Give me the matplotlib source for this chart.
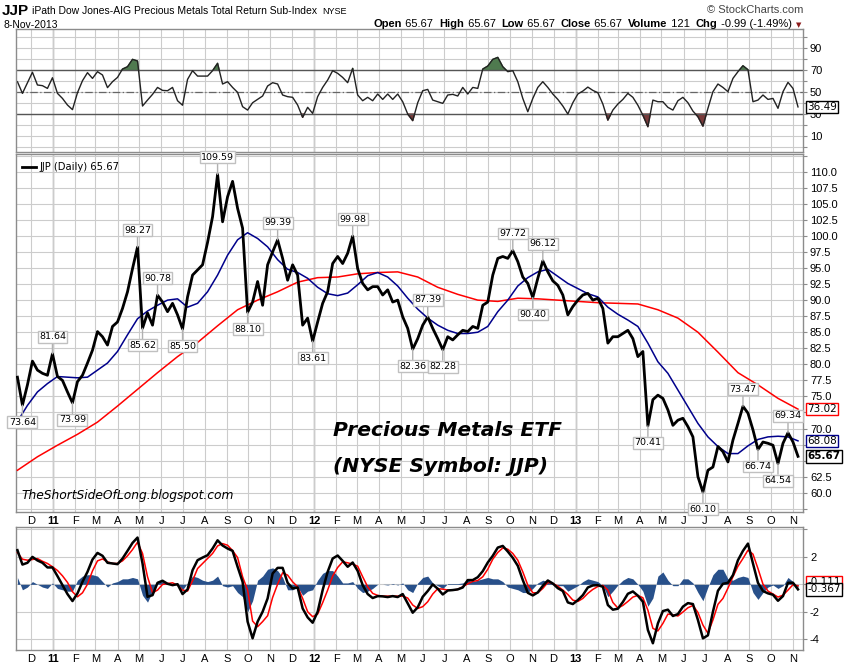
#!/usr/bin/env python
""" JJP daily chart with RSI and MACD panels, StockCharts style """
import matplotlib

matplotlib.use("Agg")
import matplotlib.pyplot as plt
import numpy as np
import pandas as pd

W, H = 850, 668

# weekly closes, first week ends 12-Nov-2010
WEEK_START = "2010-11-12"

PRICE = [
    78.0, 73.64, 76.8, 80.5, 79.1, 78.6, 78.3, 81.64, 78.1, 77.5,
    75.7, 73.99, 77.3, 78.3, 80.2, 82.2, 85.1, 84.3, 83.0, 85.9,
    86.6, 88.7, 91.3, 94.9, 98.27, 85.62, 88.0, 86.1, 90.78, 89.7,
    88.2, 89.5, 87.7, 85.50, 90.5, 93.9, 94.7, 95.5, 99.0, 103.0,
    109.59, 102.2, 106.1, 108.5, 104.3, 101.2, 88.10, 89.7, 92.9, 89.2,
    95.5, 97.5, 99.39, 96.5, 93.1, 95.5, 93.9, 86.1, 87.2, 83.61,
    86.6, 89.5, 91.3, 95.7, 96.8, 95.7, 97.3, 99.98, 94.9, 92.6,
    91.6, 92.1, 92.1, 90.8, 91.6, 89.7, 90.0, 87.4, 85.6, 82.36,
    84.0, 86.1, 87.39, 85.6, 84.0, 82.28, 84.3, 83.8, 84.6, 85.3,
    85.1, 85.9, 85.6, 89.2, 89.7, 93.9, 96.5, 96.8, 96.5, 97.72,
    96.0, 93.6, 92.6, 90.40, 93.4, 96.12, 94.4, 93.0, 92.3, 90.8,
    87.7, 89.0, 90.0, 90.8, 91.05, 90.0, 90.3, 88.7, 83.3, 84.3,
    84.3, 84.8, 85.3, 84.0, 81.2, 82.0, 70.41, 74.5, 75.2, 74.7,
    72.9, 70.5, 71.3, 71.6, 70.3, 68.7, 62.5, 60.10, 63.5, 64.0,
    67.2, 66.4, 64.8, 68.2, 70.8, 73.47, 72.4, 69.8, 66.74, 67.9,
    67.7, 67.4, 64.54, 67.7, 69.34, 67.9, 65.67,
]

# 50 day average, every second week
SMA50 = [
    71.1, 73.6, 75.7, 77.0, 78.1, 78.0, 77.9, 78.0, 79.1, 80.2,
    82.0, 84.6, 87.1, 88.3, 89.2, 90.0, 90.2, 88.9, 89.5, 91.3,
    93.9, 97.0, 99.4, 100.5, 99.6, 98.3, 96.3, 94.8, 94.3, 93.4,
    92.0, 91.0, 90.7, 91.1, 92.4, 93.8, 94.3, 93.6, 92.2, 90.3,
    88.6, 87.2, 86.1, 85.3, 84.8, 84.8, 85.0, 85.9, 88.2, 90.0,
    92.2, 93.5, 94.4, 94.8, 93.7, 92.6, 91.8, 91.0, 90.5, 88.9,
    87.8, 86.9, 85.9, 83.3, 80.4, 78.6, 76.0, 73.4, 70.8, 68.7,
    67.2, 66.1, 66.1, 67.3, 68.3, 68.7, 68.8, 68.7, 68.08,
]

# 200 day average, every fourth week
SMA200 = [
    63.5, 65.6, 67.4, 69.1, 71.0, 73.5, 76.1, 78.7, 81.2, 83.4,
    86.0, 88.5, 90.0, 91.3, 92.8, 93.5, 93.6, 94.1, 94.3, 94.4,
    93.6, 92.0, 90.9, 90.0, 89.8, 90.3, 90.2, 90.0, 89.8, 89.6,
    89.5, 89.4, 88.5, 87.2, 85.0, 81.9, 78.7, 76.8, 74.7, 73.02,
]

RSI = [
    59.4, 48.8, 58.5, 68, 56.4, 55.8, 53.3, 63, 48.8, 44.2,
    38.2, 34, 49.4, 60.3, 67.6, 62.4, 68.5, 65.5, 54, 59.4,
    63.3, 70.9, 73, 79.7, 78.2, 37.3, 42.7, 47.9, 54.2, 51.5,
    51.2, 54.2, 42.1, 38, 61.5, 69.4, 64.5, 64.5, 64.5, 69.4,
    76.1, 57.3, 59.4, 54.2, 49.7, 36.7, 33.6, 40.3, 43.3, 46.4,
    55.5, 58.5, 57.3, 47.3, 45.8, 45.2, 38.2, 27.0, 36.1, 30.6,
    45.8, 54.2, 60.9, 69.4, 67, 63.3, 58.5, 71.5, 47.3, 42.1,
    45.2, 42.1, 48.2, 43.3, 48.2, 43.3, 48.2, 41.2, 30, 24,
    40.3, 51.2, 52.4, 42.7, 41.2, 39.7, 47.3, 47.9, 46.4, 54.2,
    48.2, 54.2, 53.3, 70.9, 73.6, 79.7, 81.5, 73, 68.5, 69.4,
    59.4, 44.2, 32.1, 44.2, 54.2, 59.4, 54.2, 48.2, 43.3, 37.3,
    30, 40.3, 48.2, 50.9, 54.5, 51.5, 49.4, 39.1, 24.5, 33.6,
    39.1, 43.3, 48.8, 45.2, 38, 29, 18.5, 42.7, 41.2, 41.2,
    36.1, 33.6, 42.1, 45.2, 40.3, 32.7, 27.6, 19, 35.2, 50.3,
    57.3, 54.2, 50.3, 62.4, 68.5, 73.9, 70.3, 41.2, 42.7, 47.3,
    43.3, 44.2, 35.2, 50.3, 58.8, 53.3, 36.49,
]

MACD = [
    2.49, 1.44, 1.57, 2.0, 1.74, 1.57, 1.23, 1.23, 0.6, -0.06,
    -0.71, -1.22, -0.66, 0.18, 0.91, 1.81, 2.29, 2.08, 1.57, 1.52,
    1.47, 1.88, 2.44, 3.02, 3.41, 1.52, -0.91, -0.79, 0.11, 0.26,
    0.04, -0.06, 0.01, -0.71, -0.37, 1.03, 1.76, 1.95, 2.12, 2.61,
    3.21, 2.83, 2.61, 2.44, 1.28, 0.18, -2.72, -3.94, -2.72, -2.0,
    -1.03, 0.79, 1.2, 1.2, 0.11, -0.3, -0.23, -1.76, -2.41, -2.8,
    -2.0, -0.42, 0.91, 1.88, 2.1, 1.71, 1.28, 1.59, 0.98, -0.06,
    -0.71, -1.0, -0.86, -0.88, -0.93, -0.86, -0.93, -0.71, -1.39, -2.07,
    -1.68, -0.91, -0.49, -0.01, -0.32, -0.74, -0.45, -0.42, -0.37, -0.23,
    0.31, 0.31, 0.52, 0.96, 1.59, 2.08, 2.68, 2.8, 2.39, 1.93,
    1.35, 0.31, -0.62, -0.81, -0.59, -0.11, 0.28, 0.06, -0.28, -0.49,
    -1.32, -1.44, -1.15, -0.79, -0.23, -0.08, -0.06, -0.18, -1.51, -1.85,
    -1.78, -1.29, -0.69, -0.52, -0.83, -1.27, -3.33, -4.3, -2.85, -1.95,
    -1.85, -2.31, -2.17, -1.63, -1.37, -1.44, -2.6, -3.94, -3.72, -2.0,
    -0.47, 0.04, 0.11, 0.67, 1.76, 2.44, 2.97, 1.52, 0.11, -0.49,
    -0.66, -0.76, -1.2, -0.86, 0.11, 0.11, -0.367,
]

SIGNAL = [
    2.32, 1.83, 1.76, 1.81, 1.88, 1.68, 1.52, 1.28, 1.01, 0.62,
    0.14, -0.54, -0.91, -0.62, 0.01, 0.98, 1.71, 1.85, 1.64, 1.52,
    1.52, 1.71, 2.08, 2.53, 3.07, 2.25, 0.55, -0.62, -0.42, -0.01,
    0.06, 0.11, -0.06, -0.42, -0.49, 0.26, 1.15, 1.52, 1.88, 2.25,
    2.8, 2.97, 2.85, 2.46, 1.95, 0.55, -0.42, -2.68, -3.09, -2.72,
    -2.29, -0.96, 0.01, 0.84, 0.67, 0.18, -0.18, -1.03, -2.0, -2.36,
    -2.17, -1.34, -0.42, 0.6, 1.23, 1.64, 1.57, 1.47, 1.32, 0.55,
    -0.18, -0.66, -0.81, -0.86, -0.86, -0.86, -0.86, -0.86, -1.0, -1.51,
    -1.76, -1.63, -1.27, -0.71, -0.32, -0.35, -0.42, -0.42, -0.37, -0.18,
    0.04, 0.21, 0.28, 0.55, 1.1, 1.83, 2.32, 2.65, 2.56, 2.25,
    1.76, 0.91, -0.06, -0.62, -0.62, -0.3, 0.14, 0.06, -0.13, -0.42,
    -0.74, -1.15, -1.25, -1.03, -0.66, -0.37, -0.16, -0.08, -0.42, -1.32,
    -1.73, -1.54, -1.25, -0.93, -0.81, -0.98, -1.88, -3.21, -3.4, -2.85,
    -2.17, -2.22, -2.31, -2.02, -1.71, -1.54, -2.05, -2.97, -3.57, -2.6,
    -1.46, -1.03, -0.28, 0.55, 1.32, 1.88, 2.49, 2.2, 1.15, 0.01,
    -0.49, -0.71, -0.93, -0.79, -0.42, -0.03, -0.111,
]

HIST = [
    0.5, -0.4, -0.2, 0.2, 0.0, -0.2, -0.3, 0.1, -0.3, -0.4,
    -0.5, -0.5, 0.3, 0.6, 0.7, 0.7, 0.6, 0.2, -0.2, 0.1,
    0.2, 0.4, 0.4, 0.5, 0.4, -0.8, -1.3, -0.5, 0.2, 0.2,
    0.1, -0.1, 0.05, -0.4, 0.1, 0.6, 0.5, 0.3, 0.2, 0.3,
    0.6, -0.1, -0.2, -0.1, -0.6, -0.9, -2.0, -1.2, 0.3, 0.6,
    1.1, 1.2, 1.0, 0.5, -0.4, -0.4, -0.2, -0.8, -0.5, -0.4,
    0.3, 0.8, 1.0, 1.0, 0.6, 0.1, 0.1, 0.2, -0.3, -0.6,
    -0.5, -0.3, 0.0, 0.0, -0.05, 0.05, -0.05, 0.1, -0.4, -0.6,
    0.1, 0.5, 0.6, 0.1, -0.1, -0.3, 0.05, 0.05, 0.05, 0.1,
    0.3, 0.2, 0.3, 0.4, 0.5, 0.4, 0.4, 0.2, -0.2, -0.3,
    -0.4, -0.6, -0.6, -0.3, 0.1, 0.3, 0.2, 0.05, -0.1, -0.1,
    -0.5, -0.3, -0.1, 0.2, 0.4, 0.3, 0.2, -0.1, -0.9, -0.5,
    -0.05, 0.3, 0.5, 0.4, 0.0, -0.5, -1.6, -1.0, 0.6, 0.9,
    0.3, -0.1, -0.1, 0.4, 0.4, 0.1, -0.6, -1.2, -0.2, 0.7,
    1.1, 1.1, 0.4, 0.3, 0.5, 0.6, 0.5, -0.6, -1.1, -0.6,
    -0.2, -0.05, -0.3, -0.1, 0.5, 0.2, -0.26,
]

# (week index, label, side) for the swing high / low boxes
PEAK_LABELS = [
    (1, "73.64", "below"), (7, "81.64", "above"), (11, "73.99", "below"),
    (24, "98.27", "above"), (25, "85.62", "below"), (28, "90.78", "above"),
    (33, "85.50", "below"), (40, "109.59", "above"), (46, "88.10", "below"),
    (52, "99.39", "above"), (59, "83.61", "below"), (67, "99.98", "above"),
    (79, "82.36", "below"), (82, "87.39", "above"), (85, "82.28", "below"),
    (99, "97.72", "above"), (103, "90.40", "below"), (105, "96.12", "above"),
    (126, "70.41", "below"), (137, "60.10", "below"), (145, "73.47", "above"),
    (148, "66.74", "below"), (152, "64.54", "below"), (154, "69.34", "above"),
]

# price tick labels that sit under the value boxes on the right edge
HIDDEN_PRICE_TICKS = (65.0, 67.5, 72.5)

GRID = "#cccccc"
YEAR_GRID = "#999999"
SPINE = "#8c8c8c"
HIST_BLUE = "#28508a"
ARIAL = "Liberation Sans"
VERDANA = "DejaVu Sans"


def frame(x0, y0, x1, y1):
    return [x0 / W, 1 - y1 / H, (x1 - x0) / W, (y1 - y0) / H]


def style_axes(ax, months, show_labels):
    for s in ax.spines.values():
        s.set_color(SPINE)
        s.set_linewidth(1.0)
    ax.set_xticks(months)
    ax.grid(axis="x", color=GRID, linewidth=0.8)
    ax.grid(axis="y", color=GRID, linewidth=0.8)
    ax.set_axisbelow(True)
    for d in months:
        if d.month == 1:
            ax.axvline(d, color=YEAR_GRID, linewidth=1.0, zorder=0.5)
    ax.yaxis.tick_right()
    ax.tick_params(axis="y", length=3, color=SPINE, labelsize=8, pad=2)
    ax.tick_params(axis="x", length=0, pad=3)
    if show_labels:
        labels = [f"{d:%y}" if d.month == 1 else f"{d:%b}"[0] for d in months]
        ax.set_xticklabels(labels, fontsize=8, family=ARIAL)
        for lbl, d in zip(ax.get_xticklabels(), months):
            if d.month == 1:
                lbl.set_fontweight("bold")
    else:
        ax.set_xticklabels([])
    for lbl in ax.get_yticklabels():
        lbl.set_family(ARIAL)


def value_box(ax, val, text, edge, bold=False):
    ax.annotate(
        text, xy=(1, val), xycoords=("axes fraction", "data"),
        xytext=(3, 0), textcoords="offset points", va="center", ha="left",
        fontsize=7.5, family=VERDANA, fontweight="bold" if bold else "normal",
        bbox=dict(boxstyle="square,pad=0.12", fc="white", ec=edge, lw=1.0),
        annotation_clip=False, zorder=10,
    )


def text_run(fig, x, y, parts):
    """Place text pieces left to right, pixel coordinates"""
    renderer = fig.canvas.get_renderer()
    for s, size, weight in parts:
        t = fig.text(x / W, 1 - y / H, s, fontsize=size, fontweight=weight,
                     family=ARIAL, va="center", ha="left")
        x += t.get_window_extent(renderer).width
    return x


def main():
    weeks = pd.date_range(WEEK_START, periods=len(PRICE), freq="7D")
    price = np.array(PRICE)
    rsi = np.array(RSI)
    months = pd.date_range("2010-12-01", "2013-11-01", freq="MS")
    xlim = (pd.Timestamp("2010-11-10"), pd.Timestamp("2013-11-15"))

    fig = plt.figure(figsize=(W / 100, H / 100), dpi=100)
    fig.patch.set_facecolor("white")

    # RSI panel
    ax_rsi = fig.add_axes(frame(16, 29, 803, 152))
    ax_rsi.set_xlim(*xlim)
    ax_rsi.set_ylim(-4.5, 107.3)
    ax_rsi.set_yticks(range(0, 101, 10))
    ax_rsi.set_yticklabels([str(v) if v in (10, 30, 50, 70, 90) else "" for v in range(0, 101, 10)])
    style_axes(ax_rsi, months, False)
    ax_rsi.axhline(70, color="#555555", linewidth=1.0)
    ax_rsi.axhline(30, color="#555555", linewidth=1.0)
    ax_rsi.axhline(50, color="#666666", linewidth=0.9, linestyle=(0, (6, 2, 1, 2)))
    ax_rsi.fill_between(weeks, rsi, 70, where=rsi > 70, interpolate=True, color="#4f7a4f")
    ax_rsi.fill_between(weeks, rsi, 30, where=rsi < 30, interpolate=True, color="#7a3a3a")
    ax_rsi.plot(weeks, rsi, color="#222222", linewidth=1.0)
    value_box(ax_rsi, RSI[-1], f"{RSI[-1]:.2f}", "black")

    # price panel
    ax = fig.add_axes(frame(16, 154, 803, 512))
    ax.set_xlim(*xlim)
    ax.set_ylim(57.0, 112.76)
    ticks = np.arange(57.5, 112.6, 2.5)
    ax.set_yticks(ticks)
    ax.set_yticklabels([
        f"{t:.1f}" if 59 < t < 111 and round(t, 1) not in HIDDEN_PRICE_TICKS else ""
        for t in ticks
    ])
    style_axes(ax, months, True)
    ax.plot(weeks[::4], SMA200, color="#ff0000", linewidth=1.1, zorder=3)
    ax.plot(weeks[::2], SMA50, color="#00008b", linewidth=1.1, zorder=3)
    ax.plot(weeks, price, color="black", linewidth=2.0, zorder=4)

    for k, text, side in PEAK_LABELS:
        dy = 9 if side == "above" else -9
        ax.annotate(
            text, xy=(weeks[k], PRICE[k]), xytext=(0, dy), textcoords="offset points",
            ha="center", va="bottom" if side == "above" else "top",
            fontsize=6.8, family=VERDANA,
            bbox=dict(boxstyle="square,pad=0.15", fc="white", ec="#c0c0c0", lw=1.0),
            arrowprops=dict(arrowstyle="-", color="#b0b0b0", lw=1.0, shrinkA=0, shrinkB=0),
            zorder=6,
        )

    value_box(ax, SMA200[-1], f"{SMA200[-1]:.2f}", "#ff0000")
    value_box(ax, SMA50[-1], f"{SMA50[-1]:.2f}", "#00008b")
    value_box(ax, PRICE[-1], f"{PRICE[-1]:.2f}", "black", bold=True)

    ax.plot([0.008, 0.025], [0.963, 0.963], transform=ax.transAxes, color="black", lw=2)
    ax.text(0.03, 0.963, f"JJP (Daily) {PRICE[-1]:.2f}", transform=ax.transAxes,
            fontsize=7.2, family=VERDANA, va="center")

    ax.text(333 / W, 1 - 430 / H, "Precious Metals ETF", transform=fig.transFigure,
            fontsize=14.6, fontweight="bold", fontstyle="italic", family=VERDANA, va="center")
    ax.text(333 / W, 1 - 466 / H, "(NYSE Symbol: JJP)", transform=fig.transFigure,
            fontsize=14.6, fontweight="bold", fontstyle="italic", family=VERDANA, va="center")
    ax.text(21 / W, 1 - 495 / H, "TheShortSideOfLong.blogspot.com", transform=fig.transFigure,
            fontsize=8.8, fontstyle="italic", family=VERDANA, va="center")

    # MACD panel
    ax_m = fig.add_axes(frame(16, 527, 803, 650))
    ax_m.set_xlim(*xlim)
    ax_m.set_ylim(-4.79, 4.18)
    ax_m.set_yticks([-4, -2, 0, 2, 4])
    ax_m.set_yticklabels(["-4", "-2", "", "2", ""])
    style_axes(ax_m, months, True)
    ax_m.fill_between(weeks, HIST, 0, color=HIST_BLUE, linewidth=0, zorder=2)
    ax_m.plot(weeks, SIGNAL, color="#ff0000", linewidth=1.1, zorder=3)
    ax_m.plot(weeks, MACD, color="black", linewidth=1.8, zorder=4)
    value_box(ax_m, SIGNAL[-1] + 0.25, f"{SIGNAL[-1]:.3f}", "#ff0000")
    value_box(ax_m, MACD[-1], f"{MACD[-1]:.3f}", "black")

    # header
    x = text_run(fig, 2, 11, [("JJP", 11, "bold")])
    x = text_run(fig, x + 3, 11, [("iPath Dow Jones-AIG Precious Metals Total Return Sub-Index", 7.5, "normal")])
    text_run(fig, x + 5, 11, [("NYSE", 6.5, "normal")])
    fig.text(3 / W, 1 - 25 / H, "8-Nov-2013", fontsize=7.5, family=ARIAL, va="center")
    fig.text(803 / W, 1 - 10 / H, "\u00a9 StockCharts.com", fontsize=8, family=ARIAL,
             color="#444444", va="center", ha="right")
    text_run(fig, 374, 24, [
        ("Open", 8, "bold"), (" 65.67  ", 8, "normal"),
        ("High", 8, "bold"), (" 65.67  ", 8, "normal"),
        ("Low", 8, "bold"), (" 65.67  ", 8, "normal"),
        ("Close", 8, "bold"), (" 65.67  ", 8, "normal"),
        ("Volume", 8, "bold"), (" 121  ", 8, "normal"),
        ("Chg", 8, "bold"), (" -0.99 (-1.49%)", 8, "normal"),
    ])
    fig.text(799 / W, 1 - 25 / H, "\u25bc", fontsize=5, color="#8b1a1a", va="center", ha="center",
             family=VERDANA)

    fig.savefig("out.png", dpi=100, facecolor="white")


if __name__ == "__main__":
    main()
